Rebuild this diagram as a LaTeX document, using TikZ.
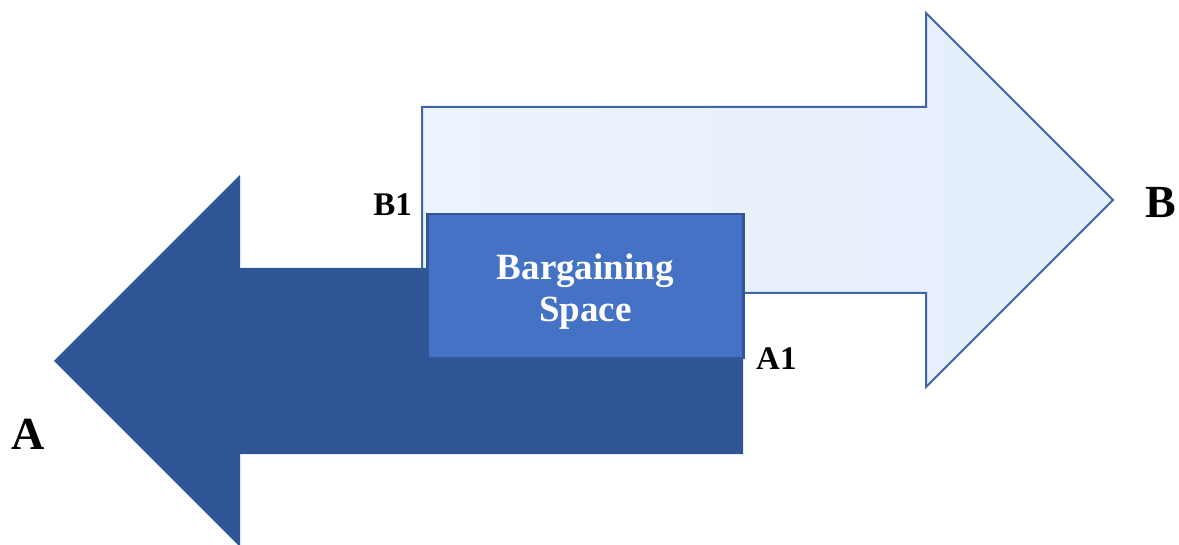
\documentclass[tikz,border=0pt]{standalone}
\usepackage{fontspec}
\setmainfont{Liberation Serif}
\definecolor{darkarrow}{HTML}{2F5597}
\definecolor{boxfill}{HTML}{4472C4}
\definecolor{boxline}{HTML}{30579B}
\definecolor{lightline}{HTML}{3E66A8}
\definecolor{lightA}{HTML}{EDF3FC}
\definecolor{lightB}{HTML}{E3EDFB}
\begin{document}
\begin{tikzpicture}[x=1pt,y=-1pt,
  lbl/.style={font=\bfseries\fontsize{33}{33}\selectfont, inner sep=0pt},
  biglbl/.style={font=\bfseries\fontsize{46}{46}\selectfont, inner sep=0pt},
  spacebox/.style={draw=boxline, line width=2.5pt, fill=boxfill},
  spacetext/.style={text=white, font=\bfseries\fontsize{37}{42}\selectfont, align=center, inner sep=0pt}]
\useasboundingbox (0,0) rectangle (1179,545);
% party B: arrow pointing right
\path[draw=lightline, line width=2pt, left color=lightA, right color=lightB, line join=miter]
  (422,107) -- (926,107) -- (926,13) -- (1113,200) -- (926,387) -- (926,293) -- (422,293) -- cycle;
% party A: arrow pointing left
\fill[darkarrow]
  (743,268) -- (240,268) -- (240,175) -- (54,361) -- (240,547) -- (240,454) -- (743,454) -- cycle;
% overlap of the two positions
\node[spacebox, minimum width=316pt, minimum height=144pt, anchor=north west] (space) at (426,213) {};
\node[spacetext] (spacelbl) at ([yshift=-5pt]space.center) {Bargaining\\Space};
% labels
\node[lbl, anchor=east] (b1) at (412,205) {B1};
\node[lbl, anchor=west] (a1) at (756,359) {A1};
\node[biglbl] (a) at (28,434) {A};
\node[biglbl] (b) at (1161,203) {B};
\end{tikzpicture}
\end{document}
